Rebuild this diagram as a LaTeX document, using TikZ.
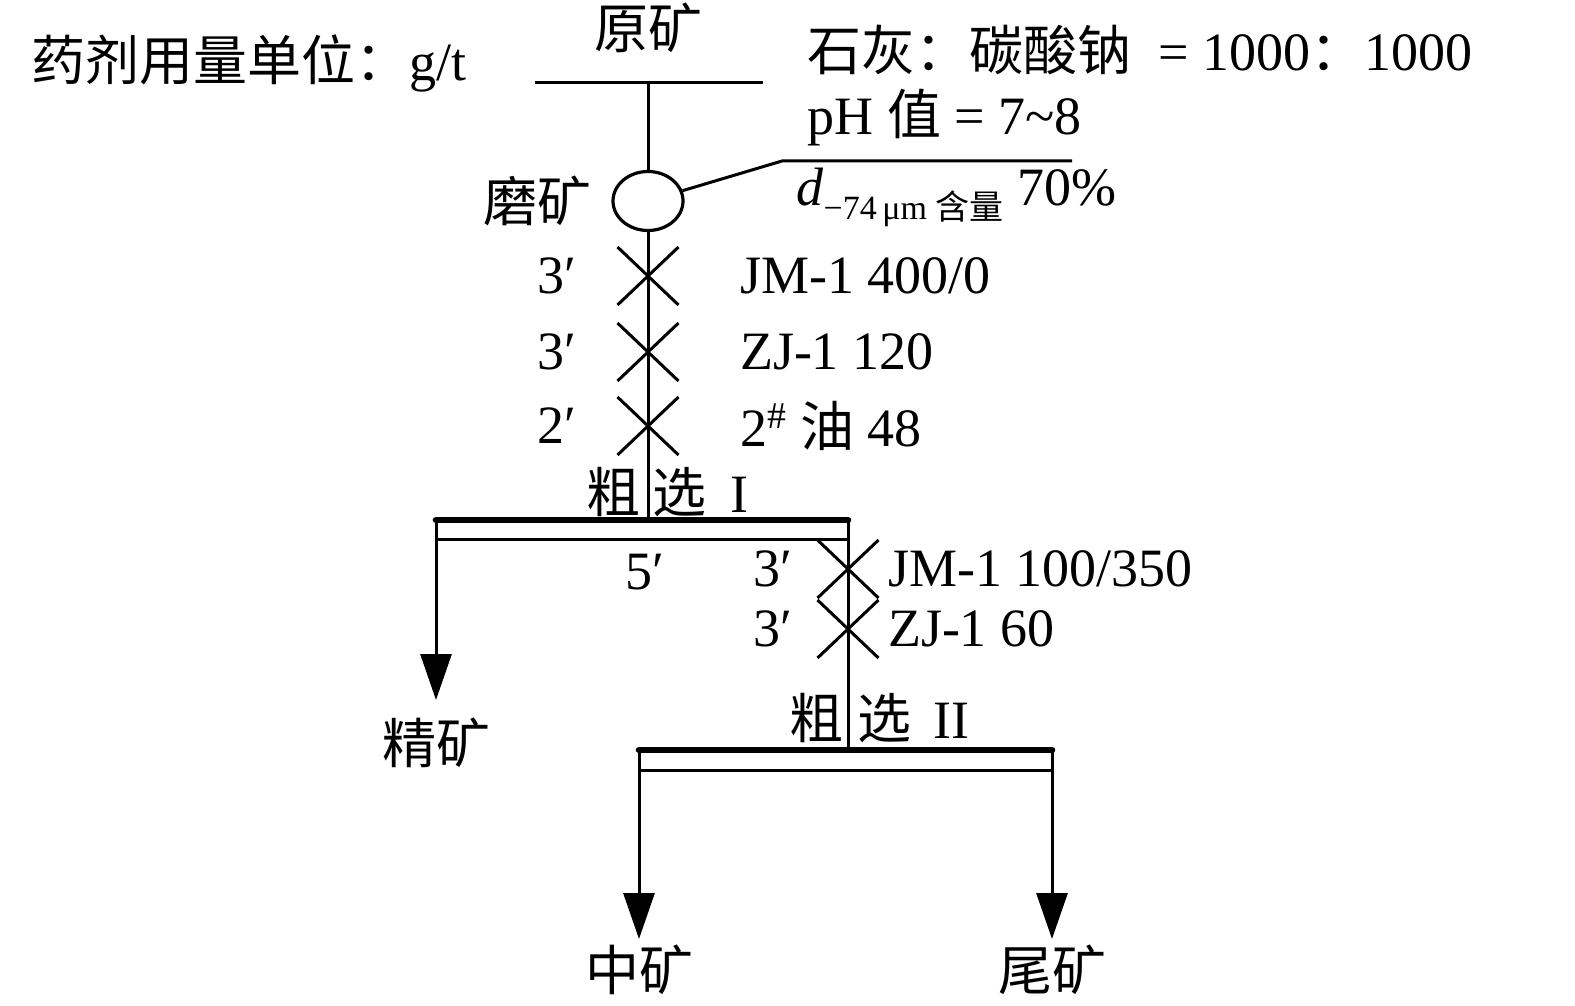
\documentclass[tikz,border=0pt]{standalone}
\usepackage{fontspec}
\setmainfont{Liberation Serif}
\newfontfamily\cjk{Noto Sans CJK SC}
\newcommand{\zh}[1]{{\cjk #1}}
\usetikzlibrary{arrows.meta,positioning,shapes.misc,shapes.geometric}

\begin{document}
\begin{tikzpicture}[x=0.5pt, y=-0.5pt, line width=1.5pt, >={Triangle[length=23pt,width=15.5pt]},
    font=\fontsize{27}{32}\selectfont,
    txt/.style={inner sep=0pt},
    dose/.style={cross out, draw, inner sep=0pt, minimum width=29pt, minimum height=27.5pt},
    bank/.style={line width=3.3pt, line cap=round}]
    \useasboundingbox (0,0) rectangle (1575,1006);

    % notes
    \node[txt, anchor=west]  (unit)  at (30,63)    {\zh{药剂用量单位：}g/t};
    \node[txt, anchor=west]  (lime)  at (806,50)   {\zh{石灰：碳酸钠}\ \ =\ 1000\zh{：}1000};
    \node[txt, anchor=west]  (ph)    at (806,118)  {pH \zh{值} = 7\textasciitilde 8};
    \node[txt, anchor=west]  (fine)  at (795,197)  {\textit{d}\raisebox{-7pt}{\fontsize{17}{20}\selectfont −74\,μm \zh{含量}}\ 70\%};

    % feed and grinding
    \node[txt]                (ore)   at (648,28)   {\zh{原矿}};
    \coordinate               (feedL) at (535,83);
    \coordinate               (feedR) at (763,83);
    \node[ellipse, draw, line width=1.6pt, minimum width=35pt, minimum height=29.5pt]
                              (grind) at (648,201)  {};
    \node[txt, left=9pt of grind]                   {\zh{磨矿}};
    \coordinate               (kink)  at (782,161);
    \coordinate               (fineR) at (1072,161);

    % rougher I reagents
    \node[dose]               (a1)    at (648,276)  {};
    \node[dose]               (a2)    at (648,352)  {};
    \node[dose]               (a3)    at (648,426)  {};
    \node[txt, left=20pt of a1]                     {3′};
    \node[txt, left=20pt of a2]                     {3′};
    \node[txt, left=20pt of a3]                     {2′};
    \node[txt, right=30pt of a1]                    {JM-1 400/0};
    \node[txt, right=30pt of a2]                    {ZJ-1 120};
    \node[txt, right=30pt of a3]                    {2\textsuperscript{\#} \zh{油} 48};

    % rougher I
    \node[txt, anchor=west]   (r1)    at (585,492)  {\zh{粗}\hspace{6pt}\zh{选}\hspace{12pt}I};
    \coordinate               (r1L)   at (436,520);
    \coordinate               (r1R)   at (848,520);
    \coordinate               (r1Lb)  at (436,539);
    \coordinate               (r1Rb)  at (848,539);
    \node[txt]                (t1)    at (645,572)  {5′};
    \coordinate               (concTip) at (436,700);
    \node[txt, below=8pt of concTip]  (conc)        {\zh{精矿}};

    % rougher II reagents
    \node[dose]               (b1)    at (848,569)  {};
    \node[dose]               (b2)    at (848,629)  {};
    \node[txt, left=12pt of b1]                     {3′};
    \node[txt, left=12pt of b2]                     {3′};
    \node[txt, right=4pt of b1]                     {JM-1 100/350};
    \node[txt, right=4pt of b2]                     {ZJ-1 60};

    % rougher II
    \node[txt, anchor=west]   (r2)    at (788,718)  {\zh{粗}\hspace{7pt}\zh{选}\hspace{11pt}II};
    \coordinate               (r2L)   at (639,750);
    \coordinate               (r2R)   at (1052,750);
    \coordinate               (r2Lb)  at (639,770);
    \coordinate               (r2Rb)  at (1052,770);
    \coordinate               (midTip)  at (639,939);
    \coordinate               (tailTip) at (1052,939);
    \node[txt, below=2pt of midTip]   (mid)         {\zh{中矿}};
    \node[txt, below=2pt of tailTip]  (tail)        {\zh{尾矿}};

    % lines
    \draw (feedL) -- (feedR);
    \draw (grind |- feedL) -- (grind);
    \draw (grind) -- (kink) -- (fineR);
    \draw (grind) -- (grind |- r1L);
    \draw[bank] (r1L) -- (r1R);
    \draw (r1Lb) -- (r1Rb);
    \draw[->] (r1L) -- (concTip);
    \draw (r1R) -- (r1R |- r2L);
    \draw[bank] (r2L) -- (r2R);
    \draw (r2Lb) -- (r2Rb);
    \draw[->] (r2L) -- (midTip);
    \draw[->] (r2R) -- (tailTip);
\end{tikzpicture}
\end{document}
